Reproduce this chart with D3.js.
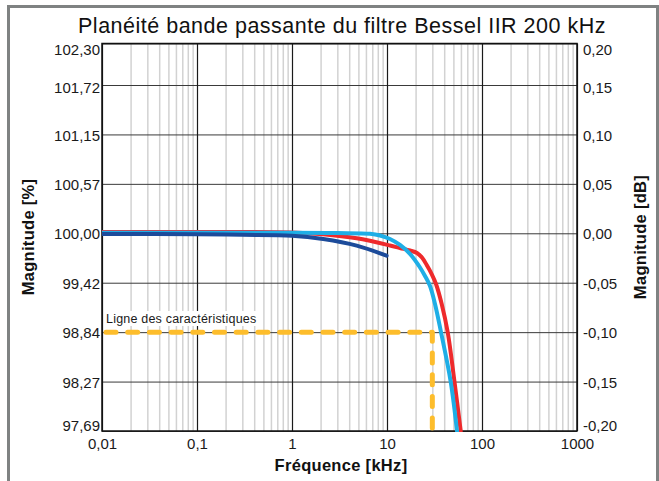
<!DOCTYPE html>
<html>
<head>
<meta charset="utf-8">
<script src="https://cdn.jsdelivr.net/npm/d3@7"></script>
<style>
  html, body { margin: 0; padding: 0; background: #fff; }
  svg { display: block; font-family: "Liberation Sans", Arial, sans-serif; }
</style>
</head>
<body>
<svg id="chart" width="659" height="481"></svg>
<script>
// Frequency axis (kHz, log) and magnitude axis (dB, linear)
const freqTicks = [0.01, 0.1, 1, 10, 100, 1000];
const freqLabels = ["0,01", "0,1", "1", "10", "100", "1000"];
const dbTicks = [0.20, 0.15, 0.10, 0.05, 0.00, -0.05, -0.10, -0.15, -0.20];
const dbLabels = ["0,20", "0,15", "0,10", "0,05", "0,00", "-0,05", "-0,10", "-0,15", "-0,20"];
const pctLabels = ["102,30", "101,72", "101,15", "100,57", "100,00", "99,42", "98,84", "98,27", "97,69"];

// Response curves: frequency (kHz) and magnitude (dB)
const navyFreq = [0.01, 0.1, 0.3, 1, 2.13, 4.8, 9.9];
const navyDb = [-0.0007, -0.0009, -0.0015, -0.0024, -0.0058, -0.0125, -0.0227];

const redFreq = [0.01, 0.1, 1, 2.12, 4.8, 10.75, 13.7, 17.46, 20.69, 23.35, 26.18, 29.54, 32.8, 37.65, 43.54, 51.3, 59.7];
const redDb = [0.0012, 0.0012, 0.0008, -0.001, -0.0051, -0.0123, -0.0149, -0.0174, -0.0199, -0.0245, -0.0321, -0.0412, -0.0513, -0.0715, -0.1, -0.15, -0.2];

const cyanFreq = [0.01, 1, 3, 6.62, 8.44, 10.75, 13.7, 17.46, 22.26, 25.12, 28.36, 32.01, 37.02, 46.8, 54.56];
const cyanDb = [0.0005, 0.0005, 0.0002, -0.0005, -0.0022, -0.0058, -0.0118, -0.0209, -0.0346, -0.0432, -0.0533, -0.0715, -0.1, -0.15, -0.2];

// Specification line: -0.1 dB up to 30 kHz
const specFreq = [0.01, 30, 30];
const specDb = [-0.1, -0.1, -0.2];

const svg = d3.select("#chart");
const L = 102, R = 577, T = 43.5, B = 431;
const FONT = "Liberation Sans, Arial, sans-serif";

const x = d3.scaleLog().domain([0.01, 1000]).range([L, R]);
// the top division of the magnitude axis is slightly shorter than the others
const y = d3.scaleLinear().domain([-0.2, 0.15, 0.2]).range([B, 85, T]);

// Outer frame
svg.append("rect").attr("x", 0).attr("y", 0).attr("width", 659).attr("height", 481).attr("fill", "#fff");
svg.append("path")
  .attr("d", `M8.5,490 V6.5 H657.5 V490`)
  .attr("fill", "none").attr("stroke", "#7f8282").attr("stroke-width", 3);

// Minor frequency grid
const minor = [];
for (let d = -2; d < 3; d++) for (let k = 2; k <= 9; k++) minor.push(k * Math.pow(10, d));
svg.append("g").attr("transform", `translate(0,${B})`)
  .call(d3.axisBottom(x).tickValues(minor).tickSize(-(B - T)).tickFormat(""))
  .call(g => g.select(".domain").remove())
  .call(g => g.selectAll("line").attr("stroke", "#d2d2d2").attr("stroke-width", 1.5));

// Horizontal grid
svg.append("g").attr("transform", `translate(${L},0)`)
  .call(d3.axisLeft(y).tickValues(dbTicks).tickSize(-(R - L)).tickFormat(""))
  .call(g => g.select(".domain").remove())
  .call(g => g.selectAll("line").attr("stroke", "#3a3a3a").attr("stroke-width", 1));

// Decade grid
svg.append("g").attr("transform", `translate(0,${B})`)
  .call(d3.axisBottom(x).tickValues(freqTicks).tickSize(-(B - T)).tickFormat(""))
  .call(g => g.select(".domain").remove())
  .call(g => g.selectAll("line").attr("stroke", "#1a1a1a").attr("stroke-width", 1.2));

// Plot frame
svg.append("rect").attr("x", L).attr("y", T).attr("width", R - L).attr("height", B - T)
  .attr("fill", "none").attr("stroke", "#111").attr("stroke-width", 1.5);

// Tick labels
function styleTicks(g) {
  g.select(".domain").remove();
  g.selectAll("text").attr("font-size", 15).attr("fill", "#1a1a1a").attr("font-family", FONT);
}
// end labels sit inside the plot height
function nudgeEnds(g) {
  g.selectAll("text").attr("dy", (d, i) =>
    i === 0 ? "0.72em" : i === dbTicks.length - 1 ? "-0.02em" : i === 1 ? "0.52em" : "0.38em");
}

svg.append("g").attr("transform", `translate(0,${B})`)
  .call(d3.axisBottom(x).tickValues(freqTicks).tickSize(0).tickPadding(7)
    .tickFormat((d, i) => freqLabels[i]))
  .call(styleTicks);

svg.append("g").attr("transform", `translate(${L},0)`)
  .call(d3.axisLeft(y).tickValues(dbTicks).tickSize(0).tickPadding(2)
    .tickFormat((d, i) => pctLabels[i]))
  .call(styleTicks).call(nudgeEnds);

svg.append("g").attr("transform", `translate(${R},0)`)
  .call(d3.axisRight(y).tickValues(dbTicks).tickSize(0).tickPadding(6)
    .tickFormat((d, i) => dbLabels[i]))
  .call(styleTicks).call(nudgeEnds);

// Specification label with white backing
const lbl = svg.append("g");
const lblText = lbl.append("text").attr("x", 106).attr("y", 323)
  .attr("font-size", 12.5).attr("letter-spacing", 0.2).attr("fill", "#1a1a1a")
  .text("Ligne des caractéristiques");
const bb = lblText.node().getBBox();
lbl.insert("rect", "text").attr("x", bb.x - 2).attr("y", bb.y - 1)
  .attr("width", bb.width + 4).attr("height", bb.height + 1).attr("fill", "#fff");

// Curves
const line = d3.line().x(d => x(d[0])).y(d => y(d[1])).curve(d3.curveCatmullRom.alpha(0.5));
const zip = (a, b) => a.map((v, i) => [v, b[i]]);

svg.append("clipPath").attr("id", "plotclip")
  .append("rect").attr("x", L).attr("y", T).attr("width", R - L).attr("height", B - T + 1);
const plot = svg.append("g").attr("clip-path", "url(#plotclip)");

plot.append("path").datum(zip(specFreq, specDb))
  .attr("d", d3.line().x(d => x(d[0])).y(d => y(d[1])))
  .attr("fill", "none").attr("stroke", "#fdbd2c").attr("stroke-width", 5)
  .attr("stroke-dasharray", "10,11.7").attr("stroke-linecap", "round").attr("stroke-linejoin", "round")
  .attr("stroke-dashoffset", -4);

plot.append("path").datum(zip(redFreq, redDb)).attr("d", line)
  .attr("fill", "none").attr("stroke", "#ee2a2c").attr("stroke-width", 4).attr("stroke-linecap", "round");
plot.append("path").datum(zip(cyanFreq, cyanDb)).attr("d", line)
  .attr("fill", "none").attr("stroke", "#1eaee6").attr("stroke-width", 4).attr("stroke-linecap", "round");
plot.append("path").datum(zip(navyFreq, navyDb)).attr("d", line)
  .attr("fill", "none").attr("stroke", "#1c4b9a").attr("stroke-width", 4).attr("stroke-linecap", "round");

// Titles
svg.append("text").attr("x", 342).attr("y", 33).attr("text-anchor", "middle")
  .attr("font-size", 21.5).attr("letter-spacing", 0.5).attr("fill", "#111")
  .text("Planéité bande passante du filtre Bessel IIR 200 kHz");
svg.append("text").attr("x", 341).attr("y", 471).attr("text-anchor", "middle")
  .attr("font-size", 16.5).attr("letter-spacing", 0.3).attr("font-weight", "bold").attr("fill", "#111")
  .text("Fréquence [kHz]");
svg.append("text").attr("transform", `translate(34,237) rotate(-90)`).attr("text-anchor", "middle")
  .attr("font-size", 16.5).attr("letter-spacing", 0.3).attr("font-weight", "bold").attr("fill", "#111")
  .text("Magnitude [%]");
svg.append("text").attr("transform", `translate(646,237) rotate(-90)`).attr("text-anchor", "middle")
  .attr("font-size", 16.5).attr("letter-spacing", 0.3).attr("font-weight", "bold").attr("fill", "#111")
  .text("Magnitude [dB]");
</script>
</body>
</html>
